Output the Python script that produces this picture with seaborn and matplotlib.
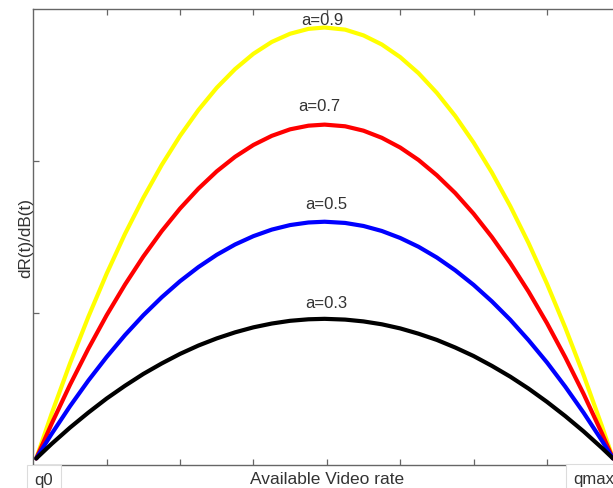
import matplotlib
matplotlib.use("Agg")
import matplotlib.pyplot as plt
import numpy as np
import pandas as pd
import seaborn as sns

# Available video rate (axis units, q0 .. qmax)
rate = [0.04, 0.25, 0.5, 0.75, 1.0, 1.25, 1.5, 1.75, 2.0, 2.25, 2.5, 2.75,
        3.0, 3.25, 3.5, 3.75, 3.97, 4.25, 4.5, 4.75, 5.0, 5.25, 5.5, 5.75,
        6.0, 6.25, 6.5, 6.75, 7.0, 7.25, 7.5, 7.75, 7.9]

# dR(t)/dB(t) for each value of a
curve_09 = [0.04, 0.335, 0.666, 0.973, 1.258, 1.520, 1.758, 1.974, 2.166, 2.336,
            2.483, 2.606, 2.707, 2.785, 2.839, 2.871, 2.880, 2.866, 2.828, 2.768,
            2.685, 2.579, 2.449, 2.297, 2.122, 1.924, 1.703, 1.459, 1.192, 0.902,
            0.589, 0.253, 0.04]
curve_07 = [0.04, 0.269, 0.525, 0.763, 0.984, 1.186, 1.371, 1.538, 1.687, 1.818,
            1.932, 2.028, 2.106, 2.166, 2.209, 2.233, 2.240, 2.229, 2.200, 2.153,
            2.089, 2.007, 1.906, 1.789, 1.653, 1.499, 1.328, 1.139, 0.932, 0.707,
            0.465, 0.205, 0.04]
curve_05 = [0.04, 0.202, 0.384, 0.553, 0.709, 0.853, 0.984, 1.102, 1.208, 1.301,
            1.382, 1.450, 1.505, 1.548, 1.578, 1.595, 1.600, 1.592, 1.572, 1.539,
            1.493, 1.435, 1.364, 1.280, 1.184, 1.075, 0.954, 0.819, 0.673, 0.513,
            0.341, 0.157, 0.04]
curve_03 = [0.04, 0.136, 0.243, 0.342, 0.435, 0.519, 0.597, 0.666, 0.729, 0.784,
            0.831, 0.871, 0.904, 0.929, 0.947, 0.957, 0.960, 0.955, 0.943, 0.924,
            0.897, 0.862, 0.821, 0.771, 0.715, 0.650, 0.579, 0.500, 0.413, 0.319,
            0.218, 0.109, 0.04]

a_labels = ["a=0.9", "a=0.7", "a=0.5", "a=0.3"]
colors = ["#ffff00", "#ff0000", "#0000ff", "#000000"]
# label anchor positions (x, baseline y) in data units
label_x = [3.94, 3.90, 3.99, 4.00]
label_y = [2.90, 2.335, 1.69, 1.037]

frames = []
for lab, ys in zip(a_labels, [curve_09, curve_07, curve_05, curve_03]):
    frames.append(pd.DataFrame({"rate": rate, "value": ys, "a": lab}))
df = pd.concat(frames, ignore_index=True)

sns.set_theme(style="white")
plt.rcParams["font.family"] = ["Liberation Sans", "DejaVu Sans"]

fig = plt.figure(figsize=(6.13, 4.89), dpi=100)
ax = fig.add_axes([33.3 / 613, 23.5 / 489, 587 / 613, 455.2 / 489])

sns.lineplot(data=df, x="rate", y="value", hue="a", hue_order=a_labels,
             palette=dict(zip(a_labels, colors)), linewidth=3.0,
             sort=False, legend=False, ax=ax, estimator=None)

ax.set_xlim(0, 8)
ax.set_ylim(0, 3)
ax.set_xticks(np.arange(1, 8))
ax.set_yticks([1, 2])
ax.set_xticklabels([])
ax.set_yticklabels([])
ax.tick_params(direction="in", length=4, width=0.9, colors="#666666",
               top=True, right=True, bottom=True, left=True)
for sp in ax.spines.values():
    sp.set_visible(True)
    sp.set_color("#666666")
    sp.set_linewidth(1.0)

ax.set_xlabel("")
ax.set_ylabel("")
text_color = "#333333"
ax.text(0.5, -0.0413, "Available Video rate", transform=ax.transAxes,
        ha="center", va="baseline", fontsize=12.5, color=text_color)
ax.text(-0.0135, 0.5, "dR(t)/dB(t)", transform=ax.transAxes, rotation=90,
        ha="center", va="center", fontsize=12.3, color=text_color)

for lab, lx, ly in zip(a_labels, label_x, label_y):
    ax.text(lx, ly, lab, ha="center", va="baseline", fontsize=12,
            color=text_color)

box = dict(boxstyle="square,pad=0.45", fc="white", ec="#dcdcdc", lw=0.8)
fig.text(44 / 613, (489 - 485.0) / 489, "q0", ha="center", va="baseline",
         fontsize=12, color=text_color, bbox=box)
fig.text(573 / 613, (489 - 484.3) / 489, "qmax", ha="left", va="baseline",
         fontsize=12, color=text_color, bbox=box)

fig.savefig("out.png", dpi=100)
